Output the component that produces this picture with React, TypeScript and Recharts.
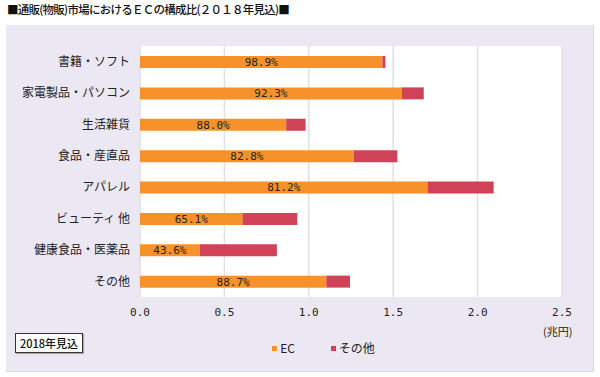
import React from "react";
import { BarChart, Bar, XAxis, YAxis, CartesianGrid, LabelList, Legend } from "recharts";

const categories = ["書籍・ソフト", "家電製品・パソコン", "生活雑貨", "食品・産直品", "アパレル", "ビューティ 他", "健康食品・医薬品", "その他"];
const ecValues = [1.436, 1.551, 0.866, 1.266, 1.703, 0.607, 0.354, 1.104];
const otherValues = [0.018, 0.13, 0.115, 0.259, 0.392, 0.325, 0.457, 0.14];
const ecShareLabels = ["98.9%", "92.3%", "88.0%", "82.8%", "81.2%", "65.1%", "43.6%", "88.7%"];
const xTicks = [0, 0.5, 1, 1.5, 2, 2.5];

const data = categories.map((name, i) => ({
  name,
  ec: ecValues[i],
  other: otherValues[i],
  share: ecShareLabels[i],
}));

const ORANGE = "#F7922A";
const RED = "#CF4257";
const LAVENDER = "#ECE8F3";
const JP = "'Noto Sans CJK JP', 'Noto Sans', sans-serif";
const MONO = "'DejaVu Sans Mono', monospace";

const LegendContent = (props: any) => {
  const items = [
    { label: "EC", color: ORANGE },
    { label: "その他", color: RED },
  ];
  return (
    <div style={{ display: "flex", justifyContent: "center", gap: 36, fontFamily: JP, fontSize: 12, color: "#222", paddingLeft: 47, height: 16, lineHeight: "16px" }}>
      {items.map((it) => (
        <div key={it.label} style={{ display: "flex", alignItems: "center" }}>
          <span style={{ display: "inline-block", width: 5, height: 5, background: it.color, marginRight: 3 }} />
          <span>{it.label}</span>
        </div>
      ))}
    </div>
  );
};

export default function App() {
  return (
    <div style={{ position: "absolute", left: 0, top: 0, width: 600, height: 377, background: "#fff", overflow: "hidden" }}>
      <div style={{ position: "absolute", left: 7, top: 1, fontFamily: JP, fontSize: 11.5, fontWeight: 500, color: "#111", whiteSpace: "nowrap", letterSpacing: -0.75 }}>
        ■通販(物販)市場におけるＥＣの構成比(２０１８年見込)■
      </div>
      <div style={{ position: "absolute", left: 6, top: 25, width: 587, height: 346, background: LAVENDER, borderRight: "1px solid #dcd8e2", borderBottom: "1px solid #dcd8e2" }} />
      <div style={{ position: "absolute", left: 0, top: 0 }}>
        <BarChart
          width={600}
          height={377}
          data={data}
          layout="vertical"
          margin={{ top: 46, right: 38, left: 0, bottom: 44 }}
          barSize={12}
        >
          <CartesianGrid horizontal={false} vertical={true} stroke="#e2dfe6" strokeWidth={1.5} fill="#ffffff" />
          <XAxis
            type="number"
            domain={[0, 2.5]}
            ticks={xTicks}
            tickFormatter={(v: number) => v.toFixed(1)}
            axisLine={false}
            tickLine={false}
            tickSize={0}
            tickMargin={11}
            height={20}
            tick={{ fontFamily: MONO, fontSize: 11, fill: "#222" }}
            interval={0}
          />
          <YAxis
            type="category"
            dataKey="name"
            width={140}
            axisLine={false}
            tickLine={false}
            tickSize={0}
            tickMargin={10}
            tick={{ fontFamily: JP, fontSize: 12, fill: "#222" }}
            interval={0}
          />
          <Bar dataKey="ec" name="EC" stackId="a" fill={ORANGE} isAnimationActive={false}>
            <LabelList dataKey="share" position="center" style={{ fontFamily: MONO, fontSize: 11, fill: "#222" }} />
          </Bar>
          <Bar dataKey="other" name="その他" stackId="a" fill={RED} isAnimationActive={false} />
          <Legend content={<LegendContent />} wrapperStyle={{ position: "absolute", top: 340, left: 0, width: 600, height: 16 }} />
        </BarChart>
      </div>
      <div style={{ position: "absolute", left: 543, top: 323, fontFamily: JP, fontSize: 11, color: "#222" }}>(兆円)</div>
      <div style={{ position: "absolute", left: 15, top: 333, width: 66, height: 18, border: "1px solid #333", background: "#fff", boxShadow: "1px 1px 1px #aaa", fontFamily: JP, fontSize: 11, fontWeight: 500, color: "#111", display: "flex", alignItems: "center", justifyContent: "center", whiteSpace: "nowrap" }}>
        2018年見込
      </div>
    </div>
  );
}
